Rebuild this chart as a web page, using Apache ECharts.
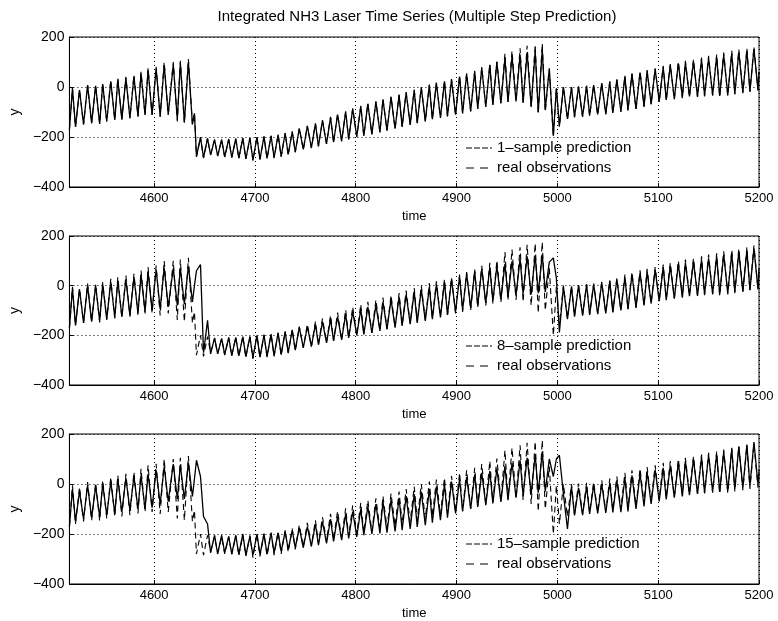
<!DOCTYPE html>
<html><head><meta charset="utf-8">
<script src="https://cdn.jsdelivr.net/npm/echarts@6/dist/echarts.min.js"></script>
<style>html,body{margin:0;padding:0;background:#fff}#c{width:778px;height:621px}</style>
</head><body><div id="c"></div><script>
// Times of the turning points (troughs / peaks)
const times = [
4516,4519,4522,4526,4530,4534,4538,4542,4546,4549,
4553,4557,4561,4564,4568,4572,4576,4580,4584,4587,
4591,4594,4598,4602,4606,4610,4614,4619,4623,4626,
4630,4634,4638,4640,
4642,4646,4649,4653,4656,4660,4663,4667,4670,4674,
4677,4681,4684,4688,4691,4695,4698,4702,4705,4709,
4712,4716,4719,4723,4726,4730,4733,4737,4740,4744,
4748,4752,4756,4760,4763,4767,4771,4775,4778,4782,
4786,4790,4793,4797,4801,4805,4808,4812,4816,4820,
4824,4827,4831,4835,4839,4843,4846,4850,4854,4858,
4861,4865,4869,4873,4876,4880,4884,4888,4891,4895,
4899,4903,4906,4910,4914,4918,4921,4925,4929,4933,
4936,4940,4944,4948,4951,4955,4959,4963,4966,4970,
4974,4978,4981,4985,4988,4992,
4996,4999,5002,5006,5010,5014,5017,5021,5025,5029,
5032,5036,5040,5044,5048,5052,5055,5059,5063,5067,
5070,5074,5078,5082,5086,5089,5093,5097,5101,5105,
5108,5112,5116,5120,5124,5127,5131,5135,5139,5143,
5146,5150,5154,5158,5161,5165,5169,5173,5176,5180,
5184,5188,5191,5195,5199,5200
];
// real observations
const observed = [
-170,-5,-160,-12,-150,8,-145,5,-148,15,
-138,28,-132,35,-130,41,-125,48,-118,61,
-112,75,-112,81,-120,100,-112,100,-138,105,
-145,112,-150,-105,
-280,-200,-285,-205,-270,-212,-275,-212,-280,-210,
-282,-208,-285,-205,-288,-205,-295,-200,-290,-198,
-288,-195,-285,-190,-280,-185,-272,-178,-262,-165,
-250,-155,-245,-145,-238,-132,-228,-119,-222,-108,
-218,-97,-210,-85,-200,-75,-196,-65,-190,-57,
-182,-48,-175,-38,-168,-30,-160,-20,-152,-10,
-145,0,-138,10,-130,18,-124,25,-118,32,
-112,45,-106,55,-98,65,-88,80,-80,92,
-72,102,-66,135,-60,145,-58,155,-65,165,
-80,170,-110,175,-100,70,
-200,-5,-160,0,-130,0,-122,2,-120,5,
-116,8,-112,15,-110,22,-106,30,-100,45,
-95,55,-90,62,-80,68,-70,75,-60,85,
-55,92,-50,100,-45,105,-40,110,-40,118,
-38,125,-35,130,-40,138,-35,145,-30,150,
-25,155,-20,162,-15,60
];
// 1-sample prediction
const pred1 = [
-170,-5,-160,-12,-150,8,-145,5,-148,12,
-138,22,-132,30,-130,36,-125,42,-118,55,
-112,68,-112,75,-118,88,-110,90,-130,95,
-140,100,-150,-105,
-278,-202,-282,-206,-272,-210,-276,-210,-280,-208,
-282,-206,-285,-204,-288,-203,-292,-200,-290,-197,
-286,-195,-283,-190,-278,-184,-270,-178,-260,-166,
-250,-156,-244,-146,-237,-134,-228,-121,-221,-110,
-216,-99,-209,-87,-199,-77,-195,-67,-189,-59,
-181,-50,-174,-40,-167,-32,-159,-22,-151,-12,
-144,-2,-137,8,-129,16,-123,23,-117,30,
-111,42,-105,52,-97,62,-87,76,-79,88,
-71,100,-65,115,-60,122,-58,130,-62,138,
-78,145,-100,150,-90,75,
-195,-5,-155,0,-128,0,-120,2,-118,5,
-114,8,-110,15,-108,22,-104,30,-98,42,
-92,52,-88,58,-78,65,-68,72,-58,80,
-52,88,-48,95,-42,98,-38,102,-38,110,
-35,115,-32,122,-36,128,-32,135,-28,140,
-22,145,-18,152,-12,60
];
// 8-sample prediction
const pred8 = [
-170,-10,-160,-15,-150,0,-145,0,-142,5,
-135,15,-128,20,-125,25,-120,35,-112,45,
-105,55,-100,65,-95,72,-85,70,-80,72,
-75,78,-65,0,
60,85,-270,-140,-275,-210,-275,-212,-278,-208,
-282,-208,-283,-205,-286,-205,-290,-200,-288,-198,
-285,-195,-282,-190,-278,-185,-270,-178,-260,-168,
-250,-165,-245,-155,-238,-145,-230,-135,-222,-125,
-218,-115,-210,-105,-200,-95,-196,-85,-190,-78,
-182,-65,-175,-55,-168,-45,-162,-35,-155,-25,
-150,-15,-142,-5,-135,5,-128,15,-118,25,
-105,38,-98,48,-90,58,-80,68,-70,75,
-62,78,-55,88,-45,98,-38,108,-32,118,
-35,122,-30,125,-25,95,
112,30,-188,-5,-135,-5,-125,0,-120,5,
-118,5,-115,12,-112,18,-108,25,-100,35,
-95,45,-88,52,-80,58,-72,65,-62,75,
-58,80,-52,88,-48,92,-42,98,-40,105,
-35,110,-32,118,-35,125,-30,130,-25,135,
-22,142,-18,150,-15,70
];
// 15-sample prediction
const pred15 = [
-170,-20,-150,-30,-140,-5,-135,-10,-130,0,
-125,10,-118,20,-112,25,-105,30,-100,35,
-100,40,-95,55,-80,70,-70,80,-60,75,
-60,85,-50,20,
95,30,-130,-160,-275,-205,-280,-205,-275,-210,
-280,-205,-282,-200,-285,-210,-285,-200,-282,-200,
-280,-195,-275,-195,-270,-190,-262,-185,-255,-175,
-255,-170,-250,-160,-245,-150,-238,-140,-230,-130,
-225,-120,-218,-110,-212,-100,-205,-90,-200,-80,
-198,-70,-195,-62,-190,-55,-185,-48,-180,-40,
-172,-30,-165,-20,-155,-10,-145,0,-135,10,
-118,20,-110,28,-100,38,-92,45,-85,52,
-78,62,-72,72,-65,85,-55,95,-45,105,
-40,118,-35,129,-30,100,
30,100,115,-40,-180,-10,-126,-15,-125,-10,
-120,-5,-118,0,-116,5,-114,15,-113,25,
-110,35,-100,42,-90,50,-80,58,-70,65,
-62,75,-55,85,-50,92,-45,100,-40,108,
-35,115,-30,120,-32,128,-28,140,-20,150,
-15,158,-8,168,-3,50
];
const xTicks = [4600, 4700, 4800, 4900, 5000, 5100, 5200];
const predNames = ['1–sample prediction', '8–sample prediction', '15–sample prediction'];
const obsName = 'real observations';
const predVals = [pred1, pred8, pred15];
const titleText = 'Integrated NH3 Laser Time Series (Multiple Step Prediction)';

const FONT = '"Liberation Sans", Arial, Helvetica, sans-serif';
const layout = [
  {top: 37, height: 150, legendY: 148},
  {top: 236, height: 149, legendY: 346},
  {top: 434, height: 150, legendY: 544}
];
const toPairs = v => times.map((t, i) => [t, v[i]]);

const grid = [], xAxis = [], yAxis = [], series = [], graphic = [];
layout.forEach((L, i) => {
  grid.push({left: 67, width: 692, top: L.top, height: L.height, show: true,
    borderColor: '#000', borderWidth: 1, containLabel: false});
  xAxis.push({type: 'value', gridIndex: i, min: 4516, max: 5200,
    name: 'time', nameLocation: 'middle', nameGap: 23,
    nameTextStyle: {fontFamily: FONT, fontSize: 13, color: '#000'},
    axisLine: {show: true, onZero: false, lineStyle: {color: '#000', width: 1}},
    axisTick: {show: true, inside: true, length: 4, customValues: xTicks, lineStyle: {color: '#000'}},
    axisLabel: {customValues: xTicks, fontFamily: FONT, fontSize: 13, color: '#000', margin: 5,
      formatter: v => String(v)},
    splitLine: {show: true, lineStyle: {color: '#000', type: [1, 3], width: 1}}
  });
  yAxis.push({type: 'value', gridIndex: i, min: -400, max: 200, interval: 200,
    name: 'y', nameLocation: 'middle', nameGap: 47, nameRotate: 90,
    nameTextStyle: {fontFamily: FONT, fontSize: 14, color: '#000'},
    axisLine: {show: true, onZero: false, lineStyle: {color: '#000', width: 1}},
    axisTick: {show: true, inside: true, length: 4, lineStyle: {color: '#000'}},
    axisLabel: {fontFamily: FONT, fontSize: 14, color: '#000', margin: 5,
      formatter: v => String(v).replace('-', '\u2212')},
    splitLine: {show: true, lineStyle: {color: '#000', type: [1, 3], width: 1}}
  });
  series.push({type: 'line', name: obsName, xAxisIndex: i, yAxisIndex: i,
    data: toPairs(observed), symbol: 'none', showSymbol: false, silent: true,
    lineStyle: {color: '#000', width: 1.1, type: [6, 4]}, itemStyle: {color: '#000'}});
  series.push({type: 'line', name: predNames[i], xAxisIndex: i, yAxisIndex: i,
    data: toPairs(predVals[i]), symbol: 'none', showSymbol: false, silent: true,
    lineStyle: {color: '#000', width: 1.3}, itemStyle: {color: '#000'}});
  // legend (drawn as graphic: line sample + label)
  const rows = [
    {y: L.legendY, text: predNames[i], dash: [6, 2]},
    {y: L.legendY + 20, text: obsName, dash: [8, 6]}
  ];
  rows.forEach(r => {
    graphic.push({type: 'line', silent: true, z: 100,
      shape: {x1: 466, y1: r.y, x2: 492, y2: r.y},
      style: {stroke: '#000', lineWidth: 1, lineDash: r.dash}});
    graphic.push({type: 'text', silent: true, z: 100, x: 497, y: r.y,
      style: {text: r.text, fill: '#000', font: '15px ' + FONT, textVerticalAlign: 'middle', verticalAlign: 'middle'}});
  });
});

const chart = echarts.init(document.getElementById('c'), null, {renderer: 'canvas'});
chart.setOption({
  animation: false,
  backgroundColor: '#fff',
  title: {text: titleText, left: 412, top: 4, textAlign: 'center',
    textStyle: {fontFamily: FONT, fontSize: 15, fontWeight: 'normal', color: '#000'}},
  grid, xAxis, yAxis, series, graphic
});
</script></body></html>
